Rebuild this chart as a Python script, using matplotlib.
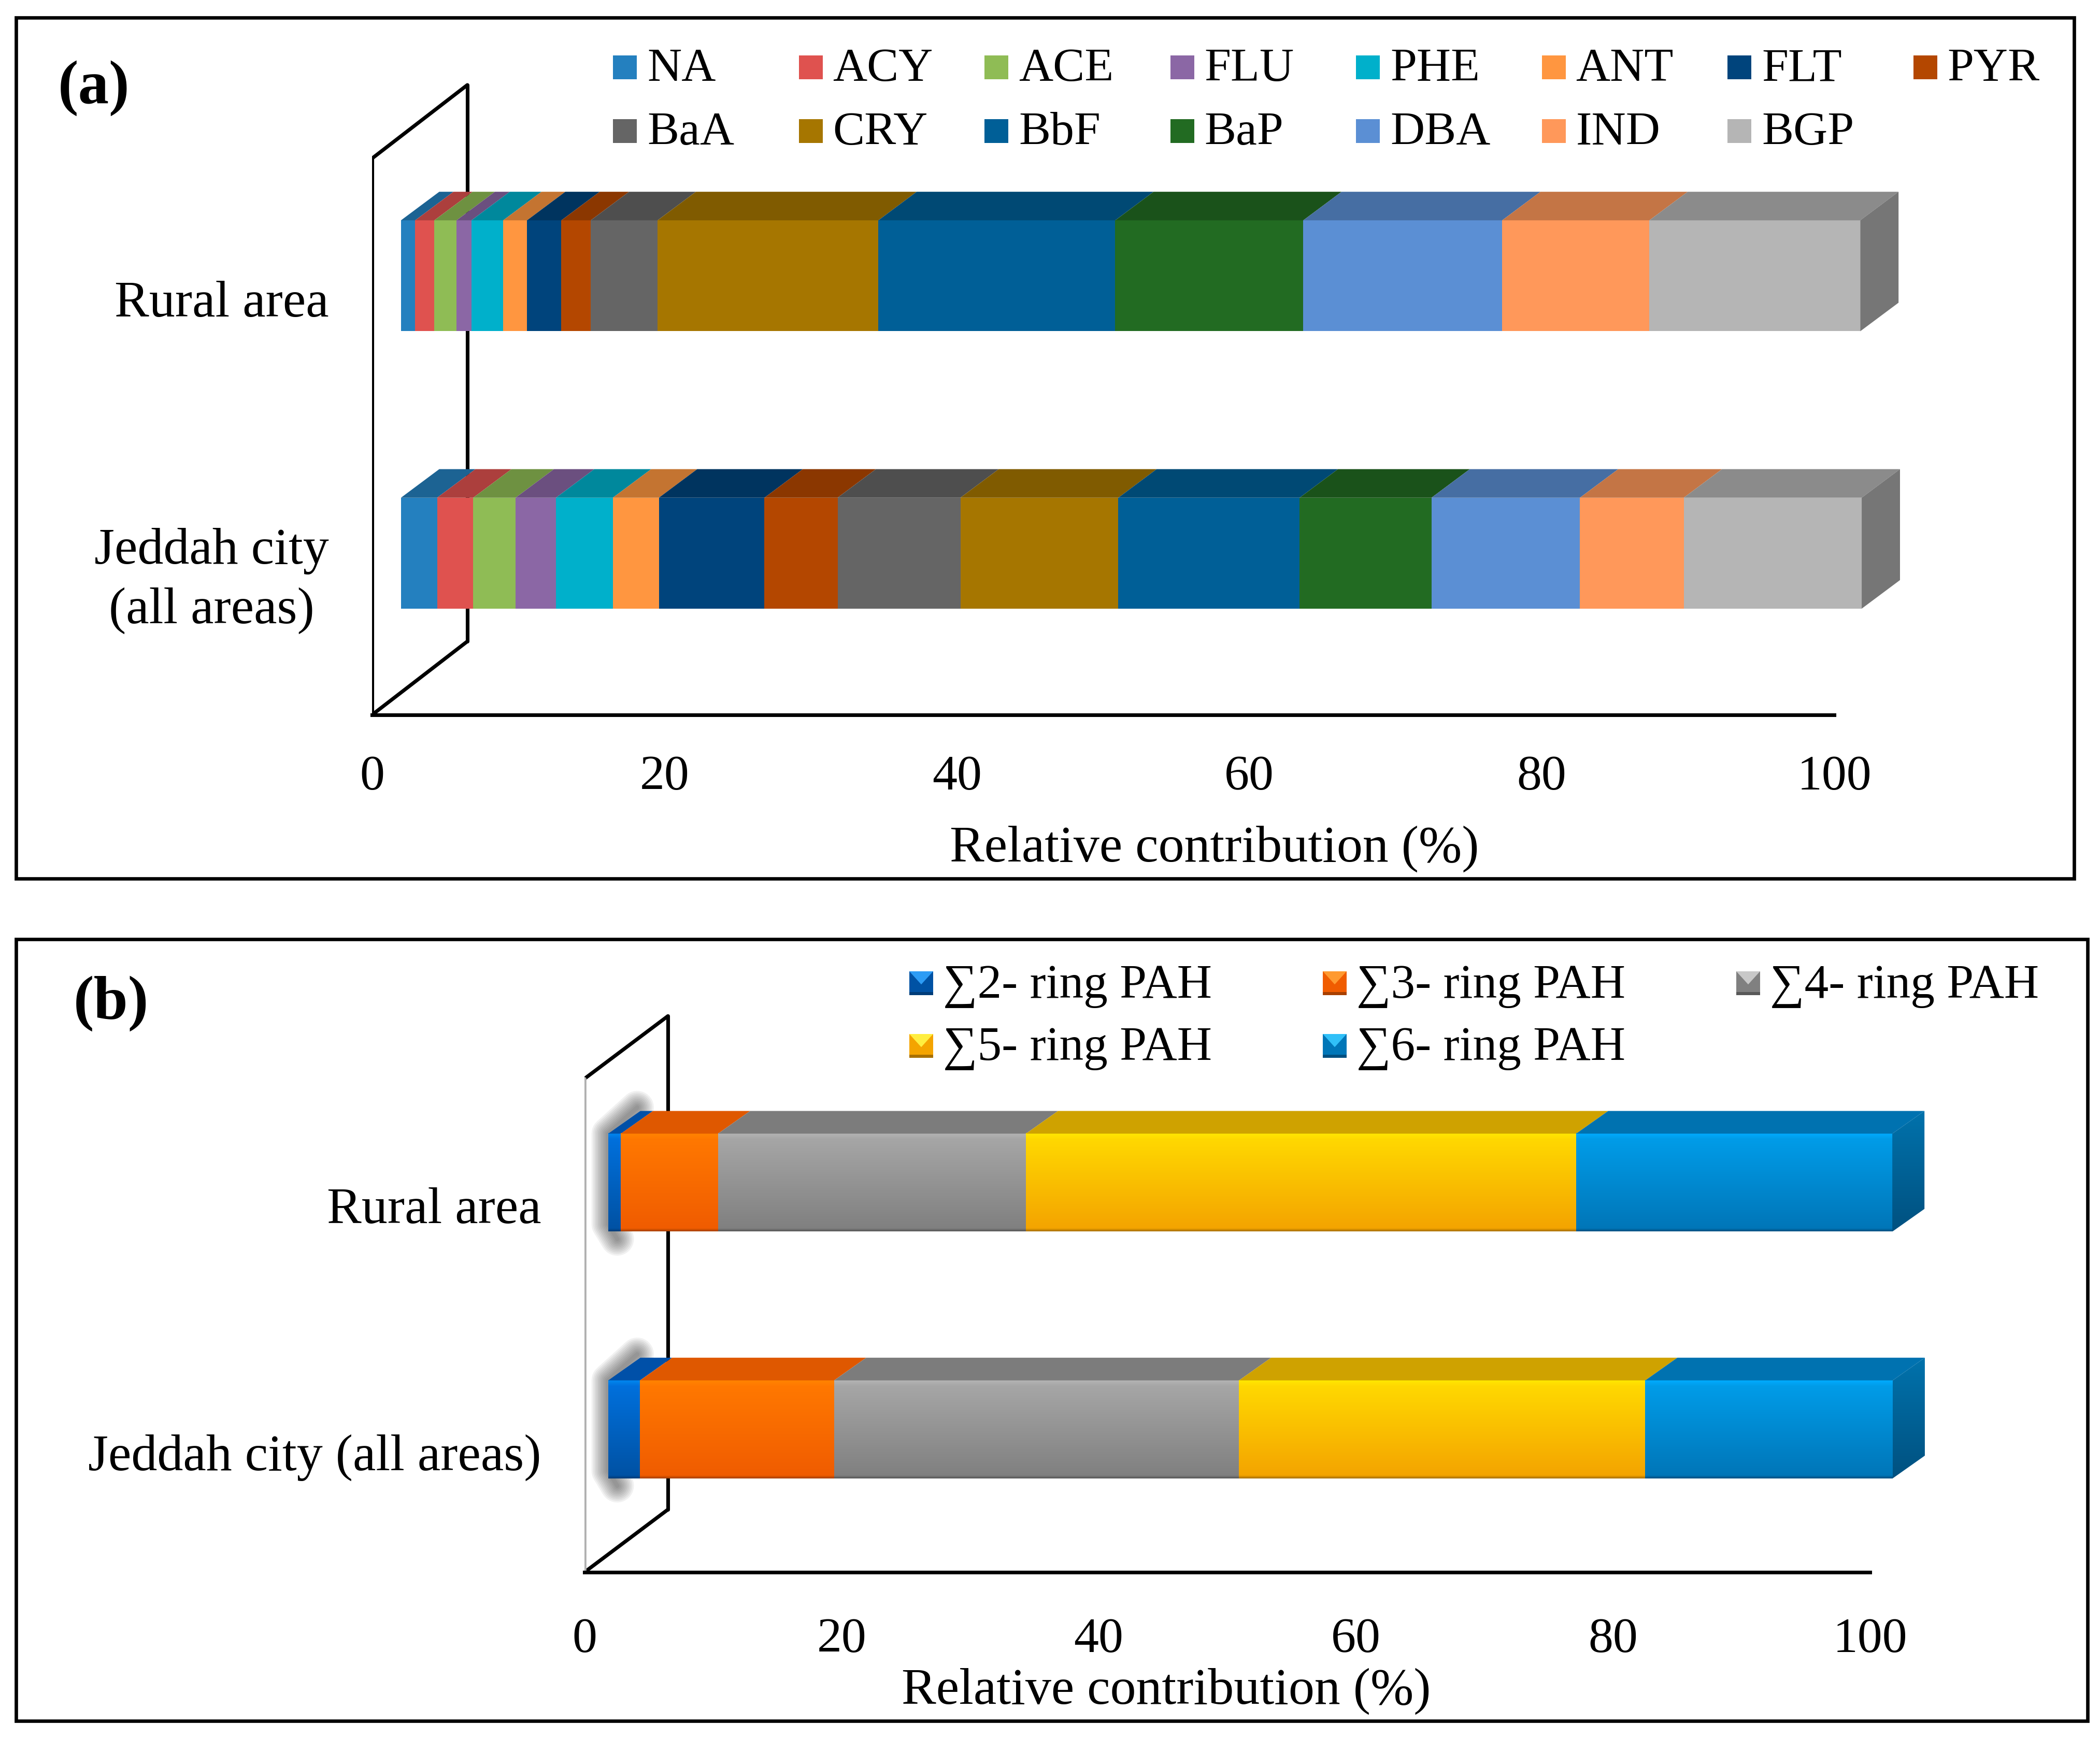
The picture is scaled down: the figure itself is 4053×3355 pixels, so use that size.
import matplotlib
matplotlib.use('Agg')
import matplotlib.pyplot as plt
import numpy as np
from matplotlib.colors import LinearSegmentedColormap, to_rgb
from matplotlib.patches import Polygon, Rectangle
from matplotlib.transforms import ScaledTranslation

W, H = 4053, 3355
DPI = 300
SERIF = ['Liberation Serif', 'DejaVu Serif']
plt.rcParams['font.family'] = SERIF

areas_a = ['Jeddah city\n(all areas)', 'Rural area']
areas_b = ['Jeddah city (all areas)', 'Rural area']
ticks = [0, 20, 40, 60, 80, 100]

pah_names = ['NA', 'ACY', 'ACE', 'FLU', 'PHE', 'ANT', 'FLT', 'PYR',
             'BaA', 'CRY', 'BbF', 'BaP', 'DBA', 'IND', 'BGP']
pah_rural = [0.97, 1.31, 1.52, 1.02, 2.17, 1.63, 2.35, 2.01,
             4.57, 15.1, 16.2, 12.86, 13.6, 10.07, 14.42]
pah_jeddah = [2.47, 2.47, 2.90, 2.76, 3.89, 3.15, 7.22, 5.00,
              8.40, 10.8, 12.4, 9.02, 10.15, 7.1, 12.17]
pah_colors = ['#2480bf', '#df524f', '#8fbc55', '#8b67a5', '#00b0cb', '#ff9640', '#00447c', '#b44700',
              '#656565', '#a67600', '#005f97', '#226b22', '#5b8fd4', '#ff985a', '#b5b5b5']

ring_names = ['∑2- ring PAH', '∑3- ring PAH', '∑4- ring PAH', '∑5- ring PAH', '∑6- ring PAH']
ring_rural = [0.98, 7.56, 23.95, 42.8, 24.6]
ring_jeddah = [2.47, 15.1, 31.5, 31.6, 19.25]
# gradient stops per series: highlight, upper, lower, dark edge
ring_stops = [['#0088f0', '#0070dc', '#0052a4', '#003c78'],
              ['#ff8400', '#ff7800', '#f05c00', '#a84000'],
              ['#b4b4b4', '#a6a6a6', '#808080', '#585858'],
              ['#ffe800', '#ffd800', '#f4a400', '#a87000'],
              ['#00acff', '#009ce8', '#0076b8', '#004f80']]
ring_tops = ['#0050a8', '#df5800', '#7c7c7c', '#cfa200', '#0072b0']
swatch_lights = ['#2d9cf5', '#ff9a30', '#c8c8c8', '#ffee40', '#30c0f8']


def add_panel_axes(left, right, bottom, top):
    ax = plt.gcf().add_axes([left / W, 1 - bottom / H, (right - left) / W, (bottom - top) / H])
    ax.set_facecolor('none')
    for side in ['top', 'right', 'left']:
        ax.spines[side].set_visible(False)
    ax.spines['bottom'].set_linewidth(1.7)
    ax.tick_params(length=0)
    return ax


def frame(left, top, right, bottom):
    fig.add_artist(Rectangle((left / W, 1 - bottom / H), (right - left) / W, (bottom - top) / H,
                             transform=fig.transFigure, fill=False, ec='black', lw=1.6))


def shade(color, k):
    return tuple(c * k for c in to_rgb(color))


def draw_wall(ax, ymin, dx, dy, height, front_color='black', front_lw=1.7):
    ax.plot([dx, dx], [ymin + dy, ymin + dy + height], color='black', lw=1.7, zorder=1, solid_capstyle='round')
    ax.plot([0, dx], [ymin + height, ymin + dy + height], color='black', lw=1.7, zorder=1, solid_capstyle='round')
    ax.plot([0, dx], [ymin, ymin + dy], color='black', lw=1.7, zorder=1, solid_capstyle='round')
    ax.plot([0, 0], [ymin, ymin + height], color=front_color, lw=front_lw, zorder=1, solid_capstyle='round')


def flat_bars(ax, y, values, colors, offset, height, dx, dy):
    lefts = offset + np.concatenate([[0], np.cumsum(values)[:-1]])
    ax.barh(y, values, left=lefts, height=height, color=colors, clip_on=False, zorder=3)
    top = y + height / 2
    for l, v, c in zip(lefts, values, colors):
        ax.add_patch(Polygon([(l, top), (l + v, top), (l + v + dx, top + dy), (l + dx, top + dy)],
                             fc=shade(c, 0.77), ec='none', clip_on=False, zorder=3))
    end = lefts[-1] + values[-1]
    low = y - height / 2
    ax.add_patch(Polygon([(end, low), (end, top), (end + dx, top + dy), (end + dx, low + dy)],
                         fc=shade(colors[-1], 0.65), ec='none', clip_on=False, zorder=3))


def gradient_image(ax, stops, positions, extent, clip=None):
    cmap = LinearSegmentedColormap.from_list('g', list(zip(positions, stops)))
    grad = cmap(np.linspace(0, 1, 256))[:, None, :]
    im = ax.imshow(grad, extent=extent, aspect='auto', origin='upper', zorder=3, clip_on=False,
                   interpolation='bilinear')
    if clip is not None:
        # the side face lies outside the axes box, so clip against the figure
        im.set_clip_on(True)
        im.set_clip_box(fig.bbox)
        im.set_clip_path(Polygon(clip, transform=ax.transData))
    return im


def shiny_bars(ax, y, values, offset, height, dx, dy):
    lefts = offset + np.concatenate([[0], np.cumsum(values)[:-1]])
    top = y + height / 2
    low = y - height / 2
    # soft shadow on the wall behind the start of the bar
    for width in np.arange(2, 16, 1.5):
        ax.plot([offset + 0.7, offset, offset, offset + dx * 0.9],
                [low - 0.03, low + 0.03, top, top + dy * 1.15],
                color='#202020', lw=float(width), alpha=0.06, zorder=2, solid_capstyle='round',
                solid_joinstyle='round')
    for l, v, s, c in zip(lefts, values, ring_stops, ring_tops):
        gradient_image(ax, s, [0, 0.06, 0.97, 1], [l, l + v, low, top])
        ax.add_patch(Polygon([(l, top), (l + v, top), (l + v + dx, top + dy), (l + dx, top + dy)],
                             fc=c, ec='none', clip_on=False, zorder=3))
    end = lefts[-1] + values[-1]
    side = [(end, low), (end, top), (end + dx, top + dy), (end + dx, low + dy)]
    gradient_image(ax, ['#0072ac', '#005180'], [0, 1], [end, end + dx, low, top + dy], clip=side)


def style_axis(ax, labels, shifts, xlim, ylim, label_pad, tick_pad, label_x, label_y):
    ax.set_xlim(*xlim)
    ax.set_ylim(*ylim)
    ax.set_xticks(ticks)
    ax.set_xticklabels([str(t) for t in ticks], fontsize=23)
    ax.tick_params(axis='x', pad=tick_pad)
    ax.set_yticks([0, 1])
    ax.set_yticklabels(labels, fontsize=24, multialignment='center', linespacing=1.35)
    ax.tick_params(axis='y', pad=label_pad)
    # category names sit a little below the bars in the original
    for lbl, px in zip(ax.get_yticklabels(), shifts):
        lbl.set_transform(lbl.get_transform() + ScaledTranslation(0, -px / DPI, fig.dpi_scale_trans))
    ax.set_xlabel('Relative contribution (%)', fontsize=24)
    ax.xaxis.set_label_coords(label_x / W, 1 - label_y / H, transform=fig.transFigure)
    ax.xaxis.label.set_va('center')


def swatch(x, y, size, color):
    fig.add_artist(Rectangle((x / W, 1 - (y + size) / H), size / W, size / H,
                             transform=fig.transFigure, fc=color, ec='none'))


def pyramid_swatch(x, y, size, stops, light):
    fx, fy, fw, fh = x / W, 1 - (y + size) / H, size / W, size / H
    fig.add_artist(Rectangle((fx, fy), fw, fh, transform=fig.transFigure, fc=stops[2], ec='none'))
    fig.add_artist(Polygon([(fx, fy + fh), (fx + fw, fy + fh), (fx + fw / 2, fy + fh * 0.45)],
                           transform=fig.transFigure, fc=light, ec='none'))
    fig.add_artist(Rectangle((fx, fy), fw, fh * 0.13, transform=fig.transFigure, fc=stops[3], ec='none'))


fig = plt.figure(figsize=(W / DPI, H / DPI), dpi=DPI, facecolor='white')

# panel (a)
frame(31, 34, 4003, 1696)
ax_a = add_panel_axes(718, 3540, 1380, 157.6)
draw_wall(ax_a, -0.583, 6.52, 0.265, 2.006)
flat_bars(ax_a, 1, pah_rural, pah_colors, 1.98, 0.40, 2.62, 0.103)
flat_bars(ax_a, 0, pah_jeddah, pah_colors, 1.98, 0.40, 2.62, 0.103)
style_axis(ax_a, areas_a, [31, 44], (0, 100), (-0.583, 1.7), 20, 18.5, 2344, 1639)

for i, (name, color) in enumerate(zip(pah_names, pah_colors)):
    col = i % 8
    row = i // 8
    x = 1183 + col * 358.5
    y = 107 + row * 123
    swatch(x, y, 46, color)
    fig.text((x + 66) / W, 1 - (y + 27) / H, name, fontsize=22, va='center')

fig.text(112 / W, 1 - 170 / H, '(a)', fontsize=28.5, fontweight='bold', va='center')

# panel (b)
frame(31, 1813, 4029, 3322)
ax_b = add_panel_axes(1128, 3609, 3035, 1940)
draw_wall(ax_b, -0.579, 6.49, 0.254, 2.0, front_color='#b0b0b0', front_lw=1.6)
shiny_bars(ax_b, 1, ring_rural, 1.85, 0.397, 2.5, 0.092)
shiny_bars(ax_b, 0, ring_jeddah, 1.85, 0.397, 2.5, 0.092)
style_axis(ax_b, areas_b, [44, 44], (0, 100), (-0.579, 1.72), 20, 21, 2251, 3265)

for i, (name, stops) in enumerate(zip(ring_names, ring_stops)):
    col = i % 3
    row = i // 3
    x = 1755 + col * 798
    y = 1875 + row * 121
    pyramid_swatch(x, y, 46, stops, swatch_lights[i])
    fig.text((x + 65) / W, 1 - (y + 28) / H, name, fontsize=22.4, va='center')

fig.text(142 / W, 1 - 1937 / H, '(b)', fontsize=28.5, fontweight='bold', va='center')

fig.savefig('out.png', dpi=DPI)
